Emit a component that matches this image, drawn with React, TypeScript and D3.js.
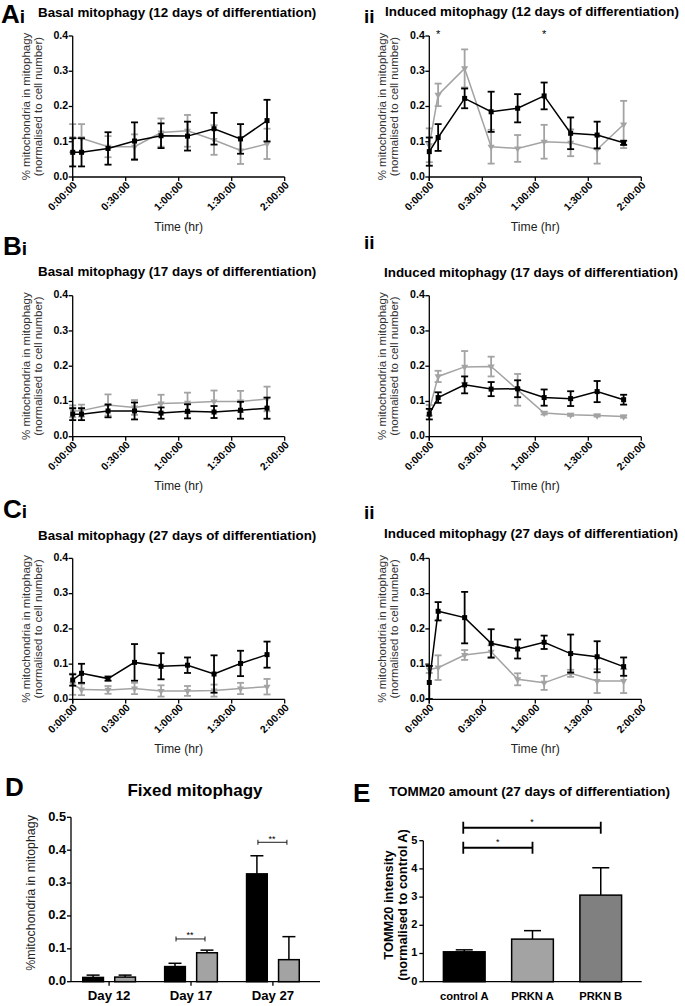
import React from 'react';
import * as d3 from 'd3';

// ---------- DATA ----------
const times = [0, 5, 20, 35, 50, 65, 80, 95, 110];
const timeTicks = [0, 30, 60, 90, 120];
const timeTickLabels = ['0:00:00', '0:30:00', '1:00:00', '1:30:00', '2:00:00'];
const lineYTicks = [0, 0.1, 0.2, 0.3, 0.4];

const aiBlack = [0.07, 0.07, 0.081, 0.102, 0.117, 0.116, 0.137, 0.108, 0.16];
const aiBlackErr = [0.04, 0.04, 0.046, 0.053, 0.035, 0.041, 0.045, 0.042, 0.059];
const aiGray = [0.11, 0.11, 0.086, 0.086, 0.126, 0.131, 0.105, 0.075, 0.094];
const aiGrayErr = [0.04, 0.04, 0.03, 0.035, 0.04, 0.045, 0.042, 0.038, 0.043];

const aiiBlack = [0.072, 0.112, 0.223, 0.185, 0.195, 0.23, 0.124, 0.119, 0.097];
const aiiBlackErr = [0.04, 0.038, 0.028, 0.057, 0.04, 0.038, 0.045, 0.038, 0.006];
const aiiGray = [0.09, 0.233, 0.308, 0.086, 0.081, 0.1, 0.097, 0.078, 0.149];
const aiiGrayErr = [0.048, 0.032, 0.054, 0.048, 0.038, 0.048, 0.038, 0.04, 0.067];
const aiiStarTimes = [5, 65];

const biBlack = [0.064, 0.064, 0.073, 0.073, 0.067, 0.072, 0.07, 0.075, 0.081];
const biBlackErr = [0.017, 0.017, 0.018, 0.024, 0.016, 0.02, 0.017, 0.024, 0.03];
const biGray = [0.072, 0.074, 0.09, 0.083, 0.094, 0.096, 0.1, 0.1, 0.107];
const biGrayErr = [0.017, 0.017, 0.03, 0.021, 0.025, 0.029, 0.031, 0.03, 0.035];

const biiBlack = [0.064, 0.111, 0.147, 0.135, 0.136, 0.111, 0.108, 0.128, 0.105];
const biiBlackErr = [0.015, 0.015, 0.024, 0.02, 0.024, 0.023, 0.021, 0.03, 0.014];
const biiGray = [0.075, 0.171, 0.198, 0.199, 0.133, 0.067, 0.062, 0.06, 0.057];
const biiGrayErr = [0.015, 0.016, 0.045, 0.028, 0.045, 0.004, 0.003, 0.003, 0.003];

const ciBlack = [0.055, 0.074, 0.059, 0.105, 0.094, 0.097, 0.072, 0.102, 0.127];
const ciBlackErr = [0.016, 0.027, 0.006, 0.052, 0.037, 0.022, 0.053, 0.036, 0.037];
const ciGray = [0.043, 0.028, 0.027, 0.031, 0.024, 0.024, 0.025, 0.031, 0.036];
const ciGrayErr = [0.03, 0.016, 0.011, 0.016, 0.016, 0.014, 0.017, 0.016, 0.022];

const ciiBlack = [0.048, 0.25, 0.232, 0.159, 0.143, 0.162, 0.13, 0.121, 0.093];
const ciiBlackErr = [0.047, 0.026, 0.073, 0.04, 0.027, 0.019, 0.054, 0.044, 0.026];
const ciiGray = [0.085, 0.09, 0.126, 0.135, 0.057, 0.047, 0.074, 0.052, 0.052];
const ciiGrayErr = [0.01, 0.035, 0.014, 0.018, 0.017, 0.02, 0.01, 0.034, 0.034];

const fixedDays = ['Day 12', 'Day 17', 'Day 27'];
const fixedBlack = [0.013, 0.046, 0.328];
const fixedBlackErr = [0.007, 0.01, 0.055];
const fixedGray = [0.014, 0.088, 0.067];
const fixedGrayErr = [0.006, 0.008, 0.07];
const fixedYTicks = [0, 0.1, 0.2, 0.3, 0.4, 0.5];
const fixedSig = [
  { day: 'Day 17', level: 0.13, label: '**' },
  { day: 'Day 27', level: 0.424, label: '**' },
];

const tommGroups = ['control A', 'PRKN A', 'PRKN B'];
const tommValues = [1.06, 1.51, 3.07];
const tommErr = [0.07, 0.3, 0.97];
const tommColors = ['#000000', '#a3a3a3', '#808080'];
const tommYTicks = [0, 1, 2, 3, 4, 5];
const tommSig = [
  { from: 'control A', to: 'PRKN A', level: 4.75, label: '*' },
  { from: 'control A', to: 'PRKN B', level: 5.46, label: '*' },
];

// ---------- STYLE ----------
const FONT = 'Liberation Sans, Arial, Helvetica, sans-serif';
const GRAY = '#a3a3a3';

type LineProps = {
  ax: number;
  top: number;
  black: number[];
  blackErr: number[];
  gray: number[];
  grayErr: number[];
  title: string;
  titleX: number;
  titleY: number;
  timeLabelY: number;
  stars?: number[];
};

function ErrBar({ x, y1, y2, color, w, cap }: any) {
  return (
    <g stroke={color} strokeWidth={w}>
      <line x1={x} x2={x} y1={y1} y2={y2} />
      <line x1={x - cap} x2={x + cap} y1={y1} y2={y1} />
      <line x1={x - cap} x2={x + cap} y1={y2} y2={y2} />
    </g>
  );
}

function LinePanel(p: LineProps) {
  const x = d3.scaleLinear().domain([0, 120]).range([p.ax, p.ax + 212]);
  const y = d3.scaleLinear().domain([0, 0.4]).range([p.top + 141, p.top]);
  const line = d3
    .line<number>()
    .x((_, i) => x(times[i]))
    .y((d) => y(d));
  const tri = d3.symbol().type(d3.symbolTriangle).size(22)();
  const y0 = y(0);
  return (
    <g fontFamily={FONT}>
      <text x={p.titleX} y={p.titleY} fontSize={13.4} fontWeight="bold" dominantBaseline="middle">
        {p.title}
      </text>
      {/* gray series */}
      <path d={line(p.gray) || ''} fill="none" stroke={GRAY} strokeWidth={1.5} />
      {p.gray.map((v, i) => (
        <ErrBar key={'ge' + i} x={x(times[i])} y1={y(v + p.grayErr[i])} y2={y(Math.max(0, v - p.grayErr[i]))} color={GRAY} w={1.8} cap={3.5} />
      ))}
      {p.gray.map((v, i) => (
        <path key={'gm' + i} d={tri || ''} transform={`translate(${x(times[i])},${y(v)}) rotate(180)`} fill={GRAY} />
      ))}
      {/* black series */}
      <path d={line(p.black) || ''} fill="none" stroke="#000" strokeWidth={1.5} />
      {p.black.map((v, i) => (
        <ErrBar key={'be' + i} x={x(times[i])} y1={y(v + p.blackErr[i])} y2={y(Math.max(0, v - p.blackErr[i]))} color="#000" w={1.8} cap={3.5} />
      ))}
      {p.black.map((v, i) => (
        <rect key={'bm' + i} x={x(times[i]) - 2.5} y={y(v) - 2.5} width={5} height={5} fill="#000" />
      ))}
      {/* axes */}
      <line x1={p.ax} x2={p.ax} y1={y(0.4)} y2={y0 + 4} stroke="#000" strokeWidth={1.3} />
      <line x1={p.ax - 0.6} x2={x(120)} y1={y0} y2={y0} stroke="#000" strokeWidth={1.3} />
      {lineYTicks.map((t) => (
        <g key={'yt' + t}>
          <line x1={p.ax - 4} x2={p.ax} y1={y(t)} y2={y(t)} stroke="#000" strokeWidth={1.3} />
          <text x={p.ax - 4.5} y={y(t)} fontSize={10.6} fontWeight="bold" textAnchor="end" dominantBaseline="middle">
            {d3.format('.1f')(t)}
          </text>
        </g>
      ))}
      {timeTicks.map((t, i) => (
        <g key={'xt' + t}>
          <line x1={x(t)} x2={x(t)} y1={y0} y2={y0 + 4} stroke="#000" strokeWidth={1.3} />
          <text
            transform={`translate(${x(t) + 3},${y0 + 7}) rotate(-45)`}
            fontSize={10.4}
            fontWeight="bold"
            textAnchor="end"
            dominantBaseline="middle"
          >
            {timeTickLabels[i]}
          </text>
        </g>
      ))}
      <text x={x(60)} y={p.timeLabelY} fontSize={12.2} textAnchor="middle" dominantBaseline="middle" fill="#222">
        Time (hr)
      </text>
      <g transform={`translate(${p.ax - 46},${(y(0) + y(0.4)) / 2}) rotate(-90)`} fill="#333" fontSize={11.5}>
        <text x={0} y={0} textAnchor="middle" dominantBaseline="middle">% mitochondria in mitophagy</text>
        <text x={0} y={11.8} textAnchor="middle" dominantBaseline="middle">(normalised to cell number)</text>
      </g>
      {(p.stars || []).map((t) => (
        <text key={'st' + t} x={x(t)} y={p.top - 1} fontSize={11} textAnchor="middle" dominantBaseline="middle">*</text>
      ))}
    </g>
  );
}

function PanelLetter({ x, y, big, small }: any) {
  return (
    <text x={x} y={y} fontFamily={FONT} fontWeight="bold">
      <tspan fontSize={26}>{big}</tspan>
      <tspan fontSize={19}>{small}</tspan>
    </text>
  );
}

function FixedPanel() {
  const ax = 71;
  const x = d3.scaleBand().domain(fixedDays).range([ax, 320]).paddingInner(0).paddingOuter(0.02);
  const cx = (d: string) => (x(d) as number) + x.bandwidth() / 2 - 4.5;
  const y = d3.scaleLinear().domain([0, 0.5]).range([981.7, 817.3]);
  const bw = 20.7;
  const off = 16;
  return (
    <g fontFamily={FONT}>
      <text x={195} y={791.5} fontSize={17} fontWeight="bold" textAnchor="middle" dominantBaseline="middle">Fixed mitophagy</text>
      {fixedDays.map((d, i) => {
        const c = cx(d);
        return (
          <g key={d}>
            <line x1={c - off} x2={c - off} y1={y(fixedBlack[i])} y2={y(fixedBlack[i] + fixedBlackErr[i])} stroke="#000" strokeWidth={1.5} />
            <line x1={c - off - 6.5} x2={c - off + 6.5} y1={y(fixedBlack[i] + fixedBlackErr[i])} y2={y(fixedBlack[i] + fixedBlackErr[i])} stroke="#000" strokeWidth={1.5} />
            <rect x={c - off - bw / 2} y={y(fixedBlack[i])} width={bw} height={y(0) - y(fixedBlack[i])} fill="#000" stroke="#000" strokeWidth={1.5} />
            <line x1={c + off} x2={c + off} y1={y(fixedGray[i])} y2={y(fixedGray[i] + fixedGrayErr[i])} stroke="#000" strokeWidth={1.5} />
            <line x1={c + off - 6.5} x2={c + off + 6.5} y1={y(fixedGray[i] + fixedGrayErr[i])} y2={y(fixedGray[i] + fixedGrayErr[i])} stroke="#000" strokeWidth={1.5} />
            <rect x={c + off - bw / 2} y={y(fixedGray[i])} width={bw} height={y(0) - y(fixedGray[i])} fill={GRAY} stroke="#000" strokeWidth={1.5} />
            <line x1={c} x2={c} y1={y(0)} y2={y(0) + 4} stroke="#000" strokeWidth={1.3} />
            <text x={c} y={996.5} fontSize={13.2} fontWeight="bold" textAnchor="middle" dominantBaseline="middle">{d}</text>
          </g>
        );
      })}
      {fixedSig.map((s) => {
        const c = cx(s.day);
        const yy = y(s.level);
        return (
          <g key={s.day} stroke="#000" strokeWidth={0.9}>
            <line x1={c - off + 1} x2={c + off - 2} y1={yy} y2={yy} />
            <line x1={c - off + 1} x2={c - off + 1} y1={yy - 2.5} y2={yy + 2.5} />
            <line x1={c + off - 2} x2={c + off - 2} y1={yy - 2.5} y2={yy + 2.5} />
            <text x={c - 1} y={yy - 3} fontSize={9} textAnchor="middle" stroke="none" fill="#000" dominantBaseline="middle">{s.label}</text>
          </g>
        );
      })}
      <line x1={ax} x2={ax} y1={y(0.5)} y2={y(0)} stroke="#000" strokeWidth={1.3} />
      <line x1={ax} x2={320} y1={y(0)} y2={y(0)} stroke="#000" strokeWidth={1.3} />
      {fixedYTicks.map((t) => (
        <g key={t}>
          <line x1={ax - 4} x2={ax} y1={y(t)} y2={y(t)} stroke="#000" strokeWidth={1.3} />
          <text x={ax - 5} y={y(t)} fontSize={12.8} fontWeight="bold" textAnchor="end" dominantBaseline="middle">{d3.format('.1f')(t)}</text>
        </g>
      ))}
      <text transform={`translate(32,893) rotate(-90)`} fontSize={12.4} fill="#222" textAnchor="middle" dominantBaseline="middle">%mitochondria in mitophagy</text>
    </g>
  );
}

function TommPanel() {
  const ax = 423.3;
  const x = d3.scaleBand().domain(tommGroups).range([ax, 641.7]).paddingInner(0.5).paddingOuter(0.35);
  const cx = (d: string) => (x(d) as number) + x.bandwidth() / 2;
  const bw = 41.7;
  const y = d3.scaleLinear().domain([0, 5]).range([981.7, 840.7]);
  return (
    <g fontFamily={FONT}>
      <text x={389} y={792.7} fontSize={13.5} fontWeight="bold" dominantBaseline="middle">TOMM20 amount (27 days of differentiation)</text>
      {tommGroups.map((g, i) => {
        const c = cx(g);
        const top = y(tommValues[i] + tommErr[i]);
        return (
          <g key={g}>
            <line x1={c} x2={c} y1={y(tommValues[i])} y2={top} stroke="#000" strokeWidth={1.5} />
            <line x1={c - 8.5} x2={c + 8.5} y1={top} y2={top} stroke="#000" strokeWidth={1.5} />
            <rect x={c - bw / 2} y={y(tommValues[i])} width={bw} height={y(0) - y(tommValues[i])} fill={tommColors[i]} stroke="#000" strokeWidth={1.5} />
            <text x={c} y={996.7} fontSize={11.2} fontWeight="bold" textAnchor="middle" dominantBaseline="middle">{g}</text>
          </g>
        );
      })}
      {tommSig.map((s) => {
        const x1 = cx(s.from) - 1;
        const x2 = cx(s.to);
        const yy = y(s.level);
        return (
          <g key={s.to} stroke="#000" strokeWidth={1.8}>
            <line x1={x1} x2={x2} y1={yy} y2={yy} />
            <line x1={x1} x2={x1} y1={yy - 6} y2={yy + 6} />
            <line x1={x2} x2={x2} y1={yy - 6} y2={yy + 6} />
            <text x={(x1 + x2) / 2} y={yy - 5} fontSize={9} stroke="none" fill="#000" textAnchor="middle" dominantBaseline="middle">{s.label}</text>
          </g>
        );
      })}
      <line x1={ax} x2={ax} y1={y(5)} y2={y(0)} stroke="#000" strokeWidth={1.3} />
      <line x1={ax} x2={641.7} y1={y(0)} y2={y(0)} stroke="#000" strokeWidth={1.3} />
      {tommYTicks.map((t) => (
        <g key={t}>
          <line x1={ax - 4} x2={ax} y1={y(t)} y2={y(t)} stroke="#000" strokeWidth={1.3} />
          <text x={ax - 6} y={y(t)} fontSize={11} fontWeight="bold" textAnchor="end" dominantBaseline="middle">{t}</text>
        </g>
      ))}
      <g transform={`translate(389.5,905) rotate(-90)`} fontSize={12.8} fontWeight="bold" textAnchor="middle">
        <text x={0} y={0} dominantBaseline="middle">TOMM20 intensity</text>
        <text x={0} y={13.8} dominantBaseline="middle">(normalised to control A)</text>
      </g>
    </g>
  );
}

export default function App() {
  return (
    <div style={{ position: 'absolute', left: 0, top: 0 }}>
      <svg width={685} height={1006} style={{ display: 'block', background: '#fff' }}>
        <rect width={685} height={1006} fill="#fff" />
        <PanelLetter x={1} y={23} big="A" small="i" />
        <PanelLetter x={364} y={23} big="" small="ii" />
        <PanelLetter x={3} y={255} big="B" small="i" />
        <PanelLetter x={364} y={249} big="" small="ii" />
        <PanelLetter x={3} y={518} big="C" small="i" />
        <PanelLetter x={364} y={519} big="" small="ii" />
        <PanelLetter x={5} y={796} big="D" small="" />
        <PanelLetter x={353} y={802} big="E" small="" />

        <LinePanel ax={72.7} top={36} black={aiBlack} blackErr={aiBlackErr} gray={aiGray} grayErr={aiGrayErr}
          title="Basal mitophagy (12 days of differentiation)" titleX={38} titleY={13.5} timeLabelY={228} />
        <LinePanel ax={429.3} top={36} black={aiiBlack} blackErr={aiiBlackErr} gray={aiiGray} grayErr={aiiGrayErr}
          title="Induced mitophagy (12 days of differentiation)" titleX={385} titleY={12.5} timeLabelY={228} stars={aiiStarTimes} />
        <LinePanel ax={72.7} top={295.7} black={biBlack} blackErr={biBlackErr} gray={biGray} grayErr={biGrayErr}
          title="Basal mitophagy (17 days of differentiation)" titleX={38} titleY={272.5} timeLabelY={487} />
        <LinePanel ax={429.3} top={295.7} black={biiBlack} blackErr={biiBlackErr} gray={biiGray} grayErr={biiGrayErr}
          title="Induced mitophagy (17 days of differentiation)" titleX={384} titleY={273} timeLabelY={487} />
        <LinePanel ax={72.7} top={558.4} black={ciBlack} blackErr={ciBlackErr} gray={ciGray} grayErr={ciGrayErr}
          title="Basal mitophagy (27 days of differentiation)" titleX={38} titleY={536.5} timeLabelY={750} />
        <LinePanel ax={429.3} top={558.4} black={ciiBlack} blackErr={ciiBlackErr} gray={ciiGray} grayErr={ciiGrayErr}
          title="Induced mitophagy (27 days of differentiation)" titleX={384} titleY={534.5} timeLabelY={750} />

        <FixedPanel />
        <TommPanel />
      </svg>
    </div>
  );
}
